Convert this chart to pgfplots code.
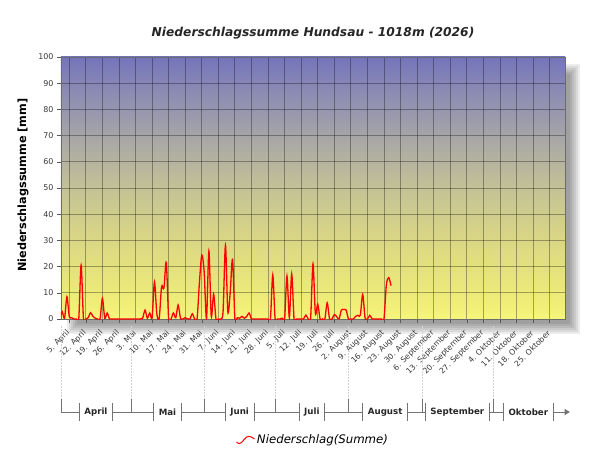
\documentclass[border=0pt]{standalone}
\usepackage{fontspec}
\setmainfont{DejaVu Sans}
\usepackage{pgfplots}
\pgfplotsset{compat=1.18}
\usetikzlibrary{arrows.meta}
\definecolor{c0}{RGB}{246,245,125}
\definecolor{c5}{RGB}{241,239,118}
\definecolor{c30}{RGB}{218,215,132}
\definecolor{c50}{RGB}{196,194,150}
\definecolor{c70}{RGB}{166,165,168}
\definecolor{c90}{RGB}{134,134,182}
\definecolor{c100}{RGB}{116,116,188}
\pgfdeclareverticalshading{bgshade}{100bp}{color(0bp)=(c0); color(25bp)=(c0); color(27.5bp)=(c5); color(40bp)=(c30); color(50bp)=(c50); color(60bp)=(c70); color(70bp)=(c90); color(75bp)=(c100); color(100bp)=(c100)}
\begin{document}
\begin{tikzpicture}
\useasboundingbox (-61bp,-131bp) rectangle (539bp,319bp);
% shadow
\foreach \i in {0,...,5}{
  \fill[black, opacity=0.075] ({(6+2*\i)*1bp},{(-15+2*\i)*1bp}) rectangle ({(519-2*\i)*1bp},{(255-2*\i)*1bp});
}
\begin{axis}[
  at={(0,0)}, anchor=south west,
  width=504bp, height=262bp, scale only axis,
  xmin=0.5, xmax=213.5, ymin=0, ymax=100,
  xtick={4,11,...,207},
  xticklabels={5. April,12. April,19. April,26. April,3. Mai,10. Mai,17. Mai,24. Mai,31. Mai,7. Juni,14. Juni,21. Juni,28. Juni,5. Juli,12. Juli,19. Juli,26. Juli,2. August,9. August,16. August,23. August,30. August,6. September,13. September,20. September,27. September,4. Oktober,11. Oktober,18. Oktober,25. Oktober},
  ytick={0,10,...,100},
  xtick pos=bottom, ytick pos=left,
  grid=major,
  major grid style={black, draw opacity=0.33, line width=0.85bp},
  axis background/.style={shading=bgshade},
  axis line style={gray!85!black, line width=0.6bp},
  tick align=outside,
  major tick length=4bp,
  every tick/.style={gray!70!black, line width=0.5bp},
  tick label style={color=black!78},
  yticklabel style={font=\fontsize{8}{9}\selectfont},
  xticklabel style={font=\fontsize{7.8}{9}\selectfont, rotate=45, anchor=east, inner sep=1bp},
  xticklabel shift=8bp,
  /pgf/number format/assume math mode=true,
  title={Niederschlagssumme Hundsau - 1018m (2026)},
  title style={at={(axis description cs:0.5,1)}, anchor=center, yshift=18bp, font=\fontsize{12.3}{14}\selectfont\bfseries\itshape, color=black!85},
  ylabel={Niederschlagssumme [mm]},
  ylabel style={at={(axis description cs:-0.0754,0.511)}, anchor=center, font=\fontsize{11.3}{13}\selectfont\bfseries},
  legend style={at={(axis description cs:0.5,-0.462)}, anchor=center, draw=none, fill=none, font=\fontsize{11.8}{14}\selectfont\itshape, inner sep=0pt},
  legend image code/.code={\draw[red, line width=1bp] (0bp,-2bp) .. controls (3bp,-5bp) and (5bp,-3bp) .. (8bp,1bp) .. controls (11bp,5bp) and (14bp,4bp) .. (18bp,1bp);},
]
\addplot[red, line width=1.3bp, smooth, tension=0.5] coordinates {
(0,0.5)(1,2.8)(2,0.3)(3,8.5)(4,1.0)(5,0.5)(6,0)(7,0)(8,0)(9,20.6)(10,0)(11,0)(12,0.5)(13,2.4)(14,1.0)(15,0.3)(16,0)(17,0)(18,7.9)(19,0.3)(20,2.3)(21,0)
(22,0)(23,0)(24,0)(25,0)(26,0)(27,0)(28,0)(29,0)(30,0)(31,0)(32,0)(33,0)(34,0)
(35,0.3)(36,3.4)(37,0.3)(38,2.3)(39,0.5)(40,14.2)(41,2.0)(42,0.2)(43,12.3)(44,11.8)(45,21.6)(46,0)(47,0)(48,2.3)(49,0.5)(50,5.3)(51,0.3)(52,0)(53,0.5)(54,0)(55,0)(56,2.0)(57,0)(58,0)
(59,14)(60,24.4)(61,18)(62,0)(63,26)(64,1)(65,9.5)(66,0)(67,0)(68,0)(69,3)(70,28.2)(71,2.8)(72,10)(73,22.8)(74,0)(75,0.5)(76,0.3)(77,1.0)(78,0.3)(79,1.0)(80,2.3)
(81,0)(82,0)(83,0)(84,0)(85,0)(86,0)(87,0)(88,0)(89,0)(90,16.8)(91,0)(92,0)(93,0)(94,0.3)(95,0)(96,16.4)(97,0.5)(98,17.2)
(99,0)(100,0)(101,0)(102,0)(103,0)(104,1.5)(105,0)(106,0.5)(107,21)(108,2.2)(109,5.7)(110,0)(111,0)(112,0)(113,6.2)(114,0)(115,0)(116,1.7)(117,0.9)(118,0)
(119,3.4)(120,3.6)(121,3.4)(122,0)(123,0)(124,0)(125,1.0)(126,1.4)(127,1.5)(128,9.4)(129,0.5)(130,0)(131,1.4)(132,0)(133,0)(134,0)(135,0)(136,0)(137,0)
(138,13)(139,15.8)(140,12.7)
};
\addlegendentry{Niederschlag(Summe)}
\end{axis}
% month bar
\begin{scope}[x=2.3662bp, y=1bp, xshift=-1.1831bp]
  \foreach \s in {0.5,30,61,91,122,153,183}{
    \draw[gray!35, dash pattern=on 1.5bp off 1.5bp, line width=0.5bp] (\s,-7) -- (\s,-80);
  }
  \foreach \s/\e/\n in {0.5/30/April,30/61/Mai,61/91/Juni,91/122/Juli,122/153/August,153/183/September}{
    \node[font=\fontsize{8.7}{10}\selectfont\bfseries, inner xsep=5bp, inner ysep=0pt, minimum height=17bp, text=black!85] (m) at ({(\s+\e)/2},-93) {\n};
    \draw[gray!90!black, line width=0.6bp] (\s,-80) -- (\s,-93) -- (m.west);
    \draw[gray!90!black, line width=0.6bp] (m.north west) -- (m.south west);
    \draw[gray!90!black, line width=0.6bp] (m.north east) -- (m.south east);
    \draw[gray!90!black, line width=0.6bp] (m.east) -- (\e,-93) -- (\e,-80);
  }
  \node[font=\fontsize{8.7}{10}\selectfont\bfseries, inner xsep=5bp, inner ysep=0pt, minimum height=17bp, text=black!85] (m) at (198,-93) {Oktober};
  \draw[gray!90!black, line width=0.6bp] (183,-80) -- (183,-93) -- (m.west);
  \draw[gray!90!black, line width=0.6bp] (m.north west) -- (m.south west);
  \draw[gray!90!black, line width=0.6bp] (m.north east) -- (m.south east);
  \draw[gray!90!black, line width=0.6bp, -{Triangle[length=5bp,width=6bp]}] (m.east) -- (215.5,-93);
\end{scope}
\end{tikzpicture}
\end{document}
